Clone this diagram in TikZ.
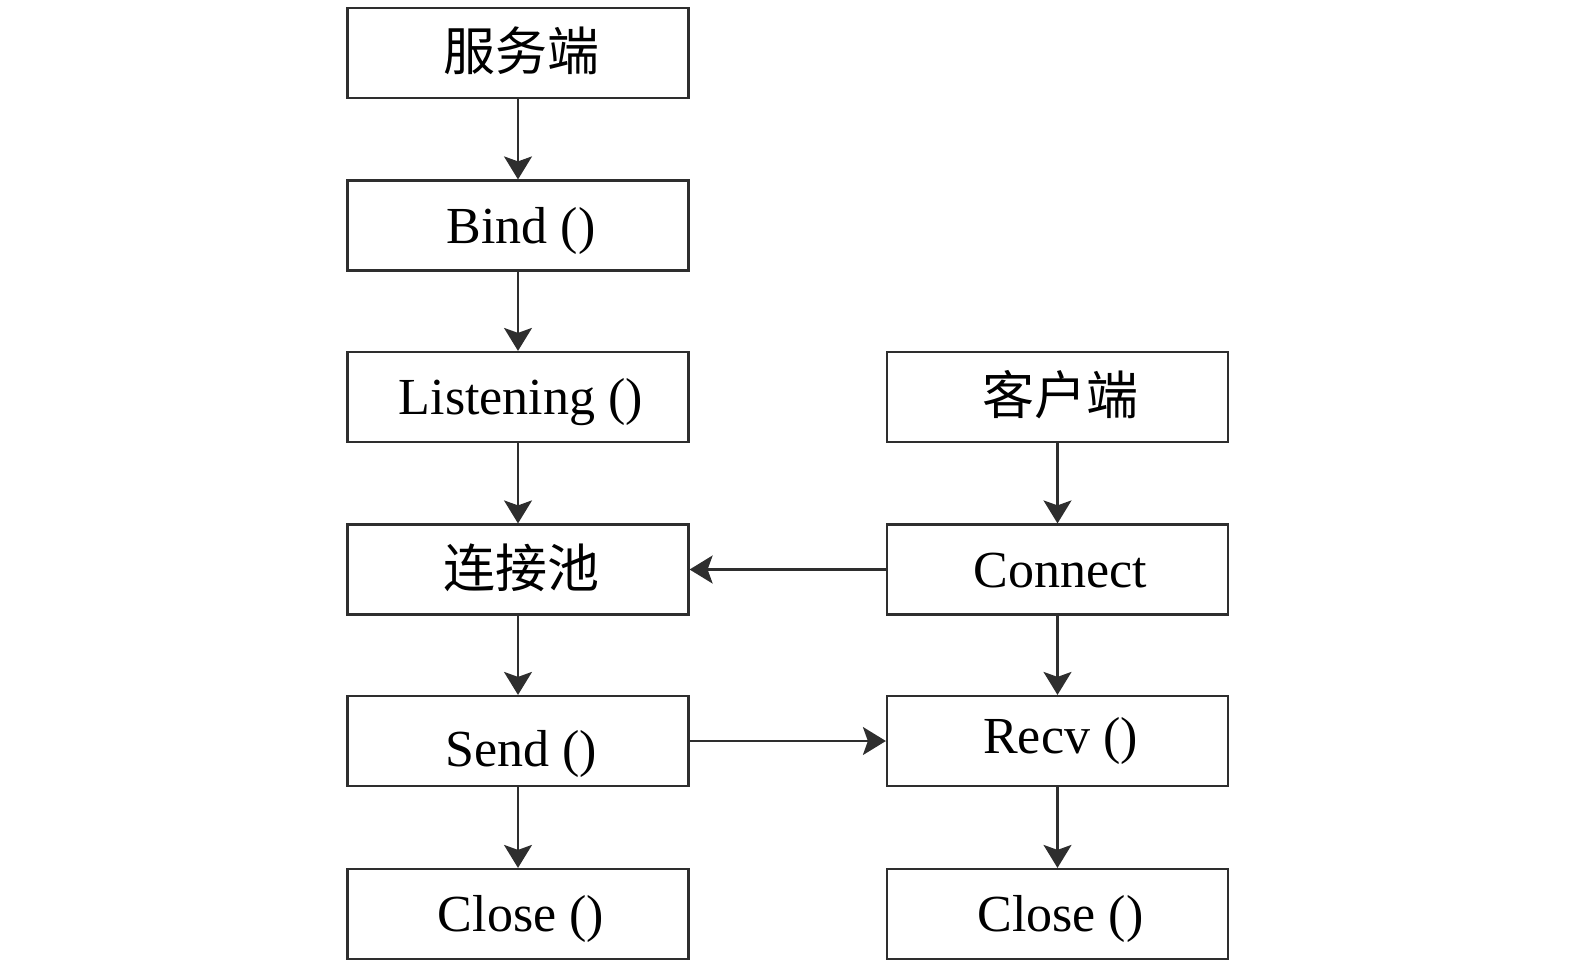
\documentclass[tikz,border=0pt]{standalone}
\usepackage{fontspec}
\setmainfont{Liberation Serif}
\newfontfamily\cjk{Noto Sans CJK SC}
\usetikzlibrary{arrows.meta}
\definecolor{linecol}{HTML}{2E2E2E}
\tikzset{
  box/.style={draw=linecol, line width=2.2pt, minimum width=341pt, minimum height=90pt,
    inner sep=0pt, font=\fontsize{52}{60}\selectfont, text height=40pt, text depth=5pt},
  conn/.style={draw=linecol, line width=2.2pt, -{Stealth[length=23pt,width=28pt,inset=5pt]}}
}
\newcommand{\tx}[1]{\hspace*{6pt}#1}
\begin{document}
\begin{tikzpicture}[x=1pt,y=-1pt]
\useasboundingbox (0,0) rectangle (1575,967);
\node[box] (srv) at (518,53) {\tx{\cjk 服务端}};
\node[box] (bind) at (518,225.5) {\tx{Bind ()}};
\node[box] (listen) at (518,397) {\tx{Listening ()}};
\node[box] (pool) at (518,569.5) {\tx{\cjk 连接池}};
\node[box, text height=52pt, text depth=2pt] (send) at (518,741) {\tx{Send ()}};
\node[box] (closel) at (518,914) {\tx{Close ()}};
\node[box] (cli) at (1057.5,397) {\tx{\cjk 客户端}};
\node[box] (connect) at (1057.5,569.5) {\tx{Connect}};
\node[box, text height=30pt, text depth=6pt] (recv) at (1057.5,741) {\tx{Recv ()}};
\node[box] (closer) at (1057.5,914) {\tx{Close ()}};
\draw[conn] (srv) -- (bind);
\draw[conn] (bind) -- (listen);
\draw[conn] (listen) -- (pool);
\draw[conn] (pool) -- (send);
\draw[conn] (send) -- (closel);
\draw[conn] (cli) -- (connect);
\draw[conn] (connect) -- (recv);
\draw[conn] (recv) -- (closer);
\draw[conn] (connect) -- (pool);
\draw[conn] (send) -- (recv);
\end{tikzpicture}
\end{document}
